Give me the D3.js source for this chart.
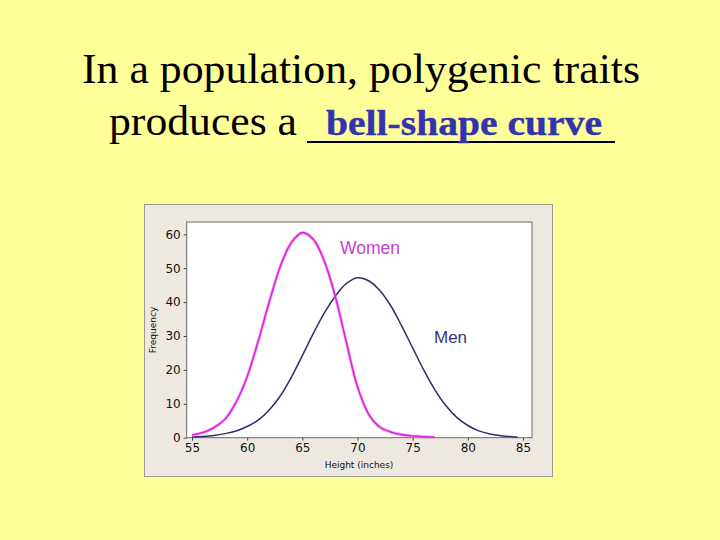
<!DOCTYPE html>
<html><head><meta charset="utf-8">
<script src="https://cdn.jsdelivr.net/npm/d3@7"></script>
<style>html,body{margin:0;padding:0;background:#FFFF99;}svg{display:block;}</style>
</head><body>
<script>
// ---- data ----
const titleLine1 = "In a population, polygenic traits";
const titleLine2 = "produces a";
const blankAnswer = "bell-shape curve";
const xTicks = [55, 60, 65, 70, 75, 80, 85];
const yTicks = [0, 10, 20, 30, 40, 50, 60];
const womenHeights = [55,56,57,58,59,60,61,62,63,64,65,66,67,68,69,70,71,72,73,74,75,76,77];
const womenFreq    = [0.8,1.5,3,5.5,10.5,18,28.5,40,50.5,57.5,60.5,58.5,52,41.5,28,15,7,3.2,1.7,0.9,0.5,0.3,0.2];
const menHeights = [55,56,57,58,59,60,61,62,63,64,65,66,67,68,69,70,71,72,73,74,75,76,77,78,79,80,81,82,83,84,84.5];
const menFreq    = [0.2,0.35,0.65,1.2,2,3.3,5.2,8.2,12.3,17.8,24.2,30.8,36.8,41.8,45.5,47.2,46.3,43.5,39,33,26.5,20,14.2,9.5,6,3.6,2,1.1,0.6,0.3,0.2];
const seriesNames = ["Women", "Men"];
const xTitle = "Height (inches)";
const yTitle = "Frequency";

const W = 720, H = 540;
const svg = d3.select("body").append("svg").attr("width", W).attr("height", H);
svg.append("rect").attr("width", W).attr("height", H).attr("fill", "#FFFF99");

// title
const serif = "'Liberation Serif','Times New Roman',serif";
svg.append("text").attr("x", 82).attr("y", 83).attr("font-family", serif).attr("font-size", 42)
  .attr("textLength", 558).attr("lengthAdjust", "spacingAndGlyphs").attr("fill", "#000").text(titleLine1);
svg.append("text").attr("x", 109).attr("y", 135).attr("font-family", serif).attr("font-size", 42)
  .attr("textLength", 188).attr("lengthAdjust", "spacingAndGlyphs").attr("fill", "#000").text(titleLine2);
// the blank to fill in
svg.append("line").attr("x1", 307).attr("x2", 615).attr("y1", 142).attr("y2", 142)
  .attr("stroke", "#000").attr("stroke-width", 2);
svg.append("text").attr("x", 326).attr("y", 134.5).attr("font-family", serif).attr("font-size", 36)
  .attr("font-weight", "bold").attr("textLength", 276).attr("lengthAdjust", "spacingAndGlyphs")
  .attr("fill", "#3333B0").attr("stroke", "#3333B0").attr("stroke-width", 0.4).text(blankAnswer);

// chart panel
svg.append("rect").attr("x", 144.5).attr("y", 204.5).attr("width", 408).attr("height", 272)
  .attr("fill", "#EEE9E0").attr("stroke", "#9A9A90").attr("stroke-width", 1);

const x = d3.scaleLinear().domain([55, 85]).range([192, 523]);
const y = d3.scaleLinear().domain([0, 60]).range([437.7, 234.3]);
const xMin = x.invert(186.7), xMax = x.invert(532), yMax = y.invert(222);

svg.append("rect").attr("x", x(xMin)).attr("y", y(yMax)).attr("width", x(xMax) - x(xMin))
  .attr("height", y(0) - y(yMax)).attr("fill", "#FFFFFF").attr("stroke", "#6A6A70").attr("stroke-width", 1);

const tickFont = "'DejaVu Sans',Verdana,sans-serif";
const yAxis = svg.append("g").attr("transform", `translate(${x(xMin)},0)`)
  .call(d3.axisLeft(y).tickValues(yTicks).tickSize(3).tickPadding(3));
const xAxis = svg.append("g").attr("transform", `translate(0,${y(0)})`)
  .call(d3.axisBottom(x).tickValues(xTicks).tickSize(3).tickPadding(3));
[xAxis, yAxis].forEach(g => {
  g.select(".domain").remove();
  g.selectAll("line").attr("stroke", "#444");
  g.selectAll("text").attr("font-family", tickFont).attr("font-size", 12).attr("fill", "#111");
});
xAxis.selectAll("text").attr("dy", "0.72em");

svg.append("text").attr("x", 359).attr("y", 468).attr("text-anchor", "middle")
  .attr("font-family", tickFont).attr("font-size", 9).attr("fill", "#111").text(xTitle);
svg.append("text").attr("transform", "translate(156,330) rotate(-90)").attr("text-anchor", "middle")
  .attr("font-family", tickFont).attr("font-size", 9).attr("fill", "#111").text(yTitle);

// curves
const line = d3.line().x(d => x(d[0])).y(d => y(d[1])).curve(d3.curveCatmullRom);
const menData = menHeights.map((h, i) => [h, menFreq[i]]);
const womenData = womenHeights.map((h, i) => [h, womenFreq[i]]);

svg.append("path").datum(menData).attr("d", line).attr("fill", "none")
  .attr("stroke", "#2E2E6E").attr("stroke-width", 1.5);
svg.append("path").datum(womenData).attr("d", line).attr("fill", "none")
  .attr("stroke", "#F080F0").attr("stroke-width", 3.2).attr("stroke-opacity", 0.6);
svg.append("path").datum(womenData).attr("d", line).attr("fill", "none")
  .attr("stroke", "#DD22DD").attr("stroke-width", 1.6);

// labels
const sans = "'Liberation Sans',Arial,sans-serif";
svg.append("text").attr("x", 340).attr("y", 254).attr("font-family", sans).attr("font-size", 17.5)
  .attr("fill", "#C63ED2").text(seriesNames[0]);
svg.append("text").attr("x", 434).attr("y", 342.5).attr("font-family", sans).attr("font-size", 17)
  .attr("fill", "#35357A").text(seriesNames[1]);
</script>
</body></html>
